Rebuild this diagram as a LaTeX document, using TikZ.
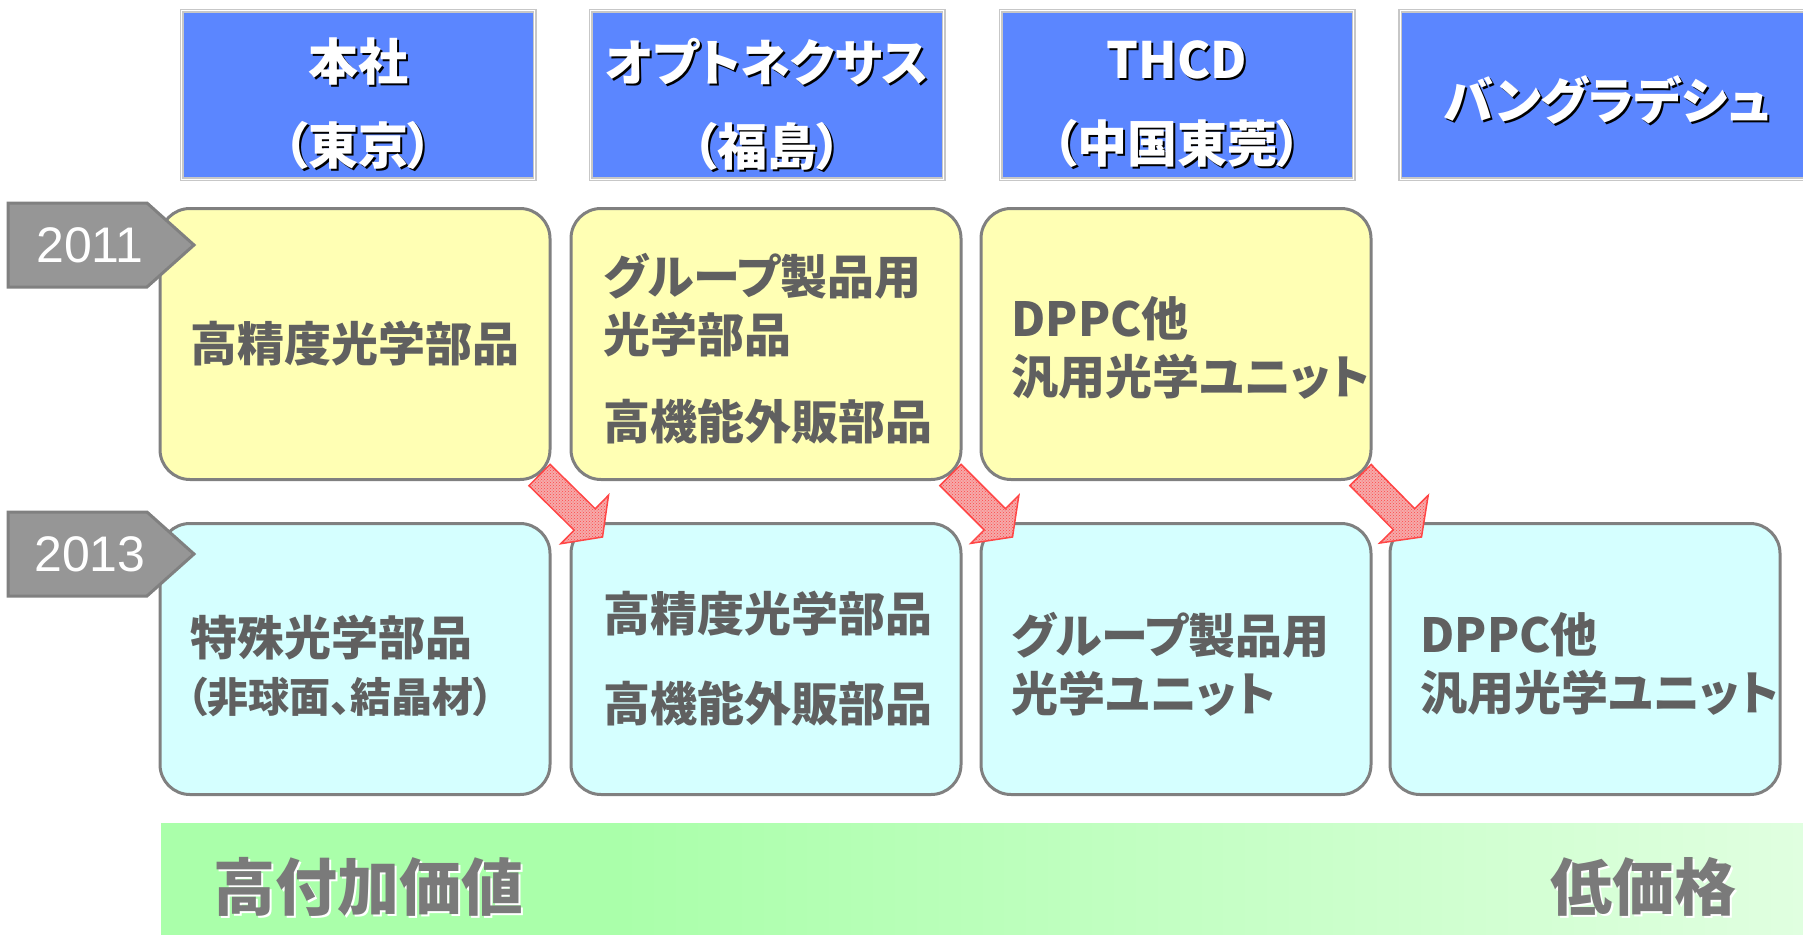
\documentclass[tikz,border=0pt]{standalone}
\usepackage{fontspec}
\setmainfont{Noto Sans CJK JP}[RawFeature=+palt]
\newfontfamily\digitfont{Liberation Sans}
\usepackage{tikz}
\usetikzlibrary{
  calc,
  patterns}

\definecolor{hdrblue}{RGB}{91,134,255}
\definecolor{oldyellow}{RGB}{255,255,180}
\definecolor{newcyan}{RGB}{213,255,255}
\definecolor{boxedge}{RGB}{128,128,128}
\definecolor{inkgray}{RGB}{96,96,96}
\definecolor{taggray}{RGB}{150,150,150}
\definecolor{arrowred}{RGB}{255,70,70}
\definecolor{arrowpink}{RGB}{245,170,170}
\definecolor{barleft}{RGB}{170,255,170}
\definecolor{barright}{RGB}{224,255,224}
\pgfdeclarehorizontalshading{valueshade}{100bp}{color(0bp)=(barleft); color(39bp)=(barleft);
  color(75bp)=(barright); color(100bp)=(barright)}

% text with a small drop shadow
\newcommand\dropsh[2]{\rlap{\kern2pt\raisebox{-2pt}{\color{#1}#2}}#2}

\begin{document}
\begin{tikzpicture}[
  x=1pt, y=-1pt,
  hdrbox/.style={draw=black!22, line width=1.5pt, double=white, double distance=1pt,
    fill=hdrblue, minimum width=353pt, minimum height=168pt, inner sep=0pt},
  hdrtext/.style={text=white, font=\fontsize{50}{84}\selectfont\bfseries,
    align=center, inner sep=0pt},
  stagebox/.style={draw=boxedge, line width=3pt, rounded corners=30pt,
    minimum width=390pt, minimum height=271pt, inner sep=0pt},
  oldbox/.style={stagebox, fill=oldyellow},
  newbox/.style={stagebox, fill=newcyan},
  stagetext/.style={text=inkgray, font=\fontsize{47}{58}\selectfont\bfseries,
    align=left, inner sep=0pt},
  yeartag/.style={draw=boxedge, line width=3pt, fill=taggray},
  yeartext/.style={text=white, font=\digitfont\fontsize{50}{60}\selectfont, inner sep=0pt},
  shiftarrow/.style={draw=arrowred, line width=1.5pt, preaction={fill=arrowpink},
    pattern=crosshatch dots, pattern color=arrowred},
  valuebar/.style={shading=valueshade, minimum width=1642pt,
    minimum height=111pt, inner sep=0pt},
  valuetext/.style={text=black!52, font=\fontsize{62}{70}\selectfont\bfseries, inner sep=0pt},
]
\useasboundingbox (0,0) rectangle (1803,934);

% sites
\node[hdrbox] (hq) at (358,95) {};
\node[hdrbox] (fk) at (767,95) {};
\node[hdrbox] (th) at (1177,95) {};
\node[hdrbox, minimum width=414pt] (bd) at (1607,95) {};
\node[hdrtext] (hqname) at ([yshift=-10pt]hq.center) {\dropsh{black}{本社}\\\dropsh{black}{（東京）}};
\node[hdrtext] (fkname) at ([yshift=-10pt]fk.center) {\dropsh{black}{オプトネクサス}\\\dropsh{black}{（福島）}};
\node[hdrtext] (thname) at ([yshift=-10pt]th.center) {\dropsh{black}{THCD}\\\dropsh{black}{（中国東莞）}};
\node[hdrtext] (bdname) at ([yshift=-6pt]bd.center) {\dropsh{black}{バングラデシュ}};

% 2011 row
\node[oldbox] (ya) at (355,344) {};
\node[oldbox] (yb) at (766,344) {};
\node[oldbox] (yc) at (1176,344) {};
\node[stagetext] (yatext) at (ya.center) {高精度光学部品};
\node[stagetext, anchor=west] (ybtext) at ([xshift=34pt,yshift=-5pt]yb.west)
  {グループ製品用\\光学部品\\[29pt]高機能外販部品};
\node[stagetext, anchor=west] (yctext) at ([xshift=32pt,yshift=-4pt]yc.west)
  {DPPC他\\汎用光学ユニット};

% 2013 row
\node[newbox] (ca) at (355,659) {};
\node[newbox] (cb) at (766,659) {};
\node[newbox] (cc) at (1176,659) {};
\node[newbox] (cd) at (1585,659) {};
\node[stagetext, anchor=west] (catext) at ([xshift=32pt,yshift=21pt]ca.west) {特殊光学部品};
\node[stagetext, anchor=west, font=\fontsize{41}{46}\selectfont\bfseries] (canote)
  at ([xshift=28pt,yshift=-38pt]ca.west) {（非球面、結晶材）};
\node[stagetext, anchor=west] (cbtext) at ([xshift=34pt]cb.west)
  {高精度光学部品\\[32pt]高機能外販部品};
\node[stagetext, anchor=west] (cctext) at ([xshift=32pt,yshift=-5pt]cc.west)
  {グループ製品用\\光学ユニット};
\node[stagetext, anchor=west] (cdtext) at ([xshift=32pt,yshift=-5pt]cd.west)
  {DPPC他\\汎用光学ユニット};

% year tags
\foreach \yr/\ty in {2011/245, 2013/554}{
  \filldraw[yeartag] (8,\ty-42) -- (147,\ty-42) -- (194,\ty) -- (147,\ty+42) -- (8,\ty+42) -- cycle;
  \node[yeartext] (year\yr) at (90,\ty) {\yr};
}

% moves
\foreach \src/\dst in {ya/cb, yb/cc, yc/cd}{
  \coordinate (\src-tail) at ([shift={(-12,-6)}]\src.south east);
  \coordinate (\dst-tip) at ([shift={(33,15)}]\dst.north west);
  \coordinate (\dst-base) at ($(\dst-tip)!25pt!(\src-tail)$);
  \path[shiftarrow]
    ($(\src-tail)!15pt!90:(\dst-tip)$) -- ($(\dst-base)!15pt!90:(\dst-tip)$)
    -- ($(\dst-base)!34pt!90:(\dst-tip)$) -- (\dst-tip)
    -- ($(\dst-base)!34pt!-90:(\dst-tip)$) -- ($(\dst-base)!15pt!-90:(\dst-tip)$)
    -- ($(\src-tail)!15pt!-90:(\dst-tip)$) -- cycle;
}

% value scale
\node[valuebar] (scale) at (982,878.5) {};
\node[valuetext, anchor=west] (highvalue) at ([xshift=52pt,yshift=-9pt]scale.west)
  {\dropsh{white}{高付加価値}};
\node[valuetext, anchor=east] (lowprice) at (1737,888) {\dropsh{white}{低価格}};
\end{tikzpicture}
\end{document}
